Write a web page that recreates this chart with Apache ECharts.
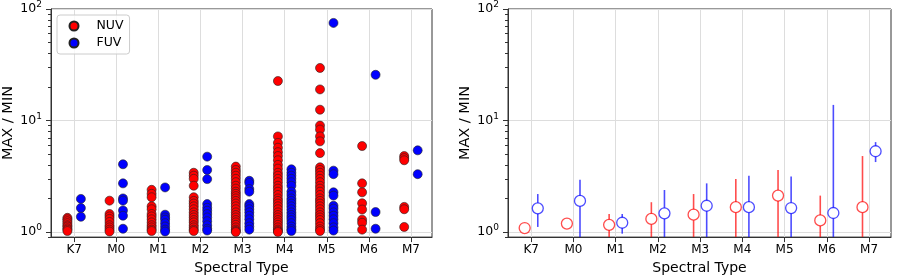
<!DOCTYPE html>
<html>
<head>
<meta charset="utf-8">
<script src="https://cdn.jsdelivr.net/npm/echarts@6/dist/echarts.min.js"></script>
<style>
html,body{margin:0;padding:0;background:#fff;}
#chart{width:900px;height:280px;}
</style>
</head>
<body>
<div id="chart"></div>
<script>
// ---- data ----
const categories = ['K7', 'M0', 'M1', 'M2', 'M3', 'M4', 'M5', 'M6', 'M7'];

// Left panel: individual MAX/MIN ratios per spectral type
const nuvRatios = [
  [1.34, 1.3, 1.25, 1.2, 1.15, 1.12, 1.08, 1.05, 1.02],
  [1.91, 1.45, 1.38, 1.31, 1.23, 1.15, 1.1, 1.05, 1.01],
  [2.39, 2.2, 2.05, 1.7, 1.6, 1.45, 1.38, 1.3, 1.22, 1.15, 1.1, 1.05, 1.02],
  [3.4, 3.2, 3.0, 2.6, 2.05, 1.9, 1.8, 1.7, 1.6, 1.5, 1.42, 1.35, 1.28, 1.22, 1.15, 1.1, 1.05, 1.02],
  [3.86, 3.6, 3.4, 3.2, 3.0, 2.8, 2.6, 2.45, 2.3, 2.2, 2.1, 2.0, 1.9, 1.8, 1.7, 1.6, 1.5, 1.42, 1.35, 1.28, 1.22, 1.16, 1.1, 1.05, 1.02, 1.0],
  [22.6, 7.2, 6.3, 5.7, 5.2, 4.8, 4.4, 4.0, 3.7, 3.4, 3.2, 3.0, 2.8, 2.6, 2.45, 2.3, 2.15, 2.0, 1.9, 1.8, 1.7, 1.6, 1.5, 1.42, 1.35, 1.28, 1.22, 1.16, 1.1, 1.05, 1.02, 1.0],
  [29.6, 19, 12.5, 9.0, 8.3, 7.2, 6.5, 5.1, 3.8, 3.6, 3.4, 3.2, 3.0, 2.8, 2.6, 2.45, 2.3, 2.15, 2.0, 1.9, 1.8, 1.7, 1.6, 1.5, 1.42, 1.35, 1.28, 1.2, 1.12, 1.06, 1.02],
  [5.9, 2.73, 2.27, 1.81, 1.59, 1.29, 1.21, 1.05],
  [4.8, 4.6, 4.4, 1.68, 1.6, 1.11]
];
const fuvRatios = [
  [1.98, 1.64, 1.37],
  [4.05, 2.73, 2.0, 1.91, 1.56, 1.4, 1.07],
  [2.51, 1.43, 1.35, 1.29, 1.2, 1.12, 1.05, 1.01],
  [4.74, 3.6, 2.98, 1.78, 1.65, 1.55, 1.45, 1.35, 1.25, 1.15, 1.07, 1.03],
  [2.88, 2.75, 2.43, 2.3, 1.78, 1.7, 1.6, 1.5, 1.4, 1.3, 1.2, 1.12, 1.05],
  [3.65, 3.4, 3.2, 3.0, 2.8, 2.6, 2.3, 2.15, 2.0, 1.9, 1.8, 1.7, 1.6, 1.5, 1.42, 1.35, 1.28, 1.2, 1.12, 1.06, 1.02],
  [75, 3.55, 3.3, 2.27, 2.12, 1.72, 1.62, 1.5, 1.4, 1.3, 1.2, 1.1, 1.03],
  [25.7, 1.51, 1.07],
  [5.4, 3.3]
];

// Right panel: typical value with spread
const nuvMedian = [1.085, 1.19, 1.16, 1.31, 1.43, 1.67, 2.12, 1.27, 1.67];
const nuvHigh   = [1.15, 1.26, 1.45, 1.85, 2.19, 2.98, 3.6, 2.12, 4.8];
const nuvLow    = [1.02, 1.12, 0.5, 0.5, 0.5, 0.5, 0.5, 0.5, 0.5];
const fuvMedian = [1.63, 1.90, 1.21, 1.47, 1.72, 1.67, 1.64, 1.48, 5.3];
const fuvHigh   = [2.19, 2.94, 1.45, 2.38, 2.73, 3.19, 3.15, 13.8, 6.4];
const fuvLow    = [1.11, 0.5, 0.966, 0.5, 0.5, 0.5, 0.5, 0.5, 4.24];

const yMajorTicks = [1, 10, 100];
const yMinorTicks = [0.9, 2, 3, 4, 5, 6, 7, 8, 9, 20, 30, 40, 50, 60, 70, 80, 90];
const xTickValues = [0, 1, 2, 3, 4, 5, 6, 7, 8];
const supDigits = {1: '0', 10: '1', 100: '2'};

// ---- build ----
const Y_MIN = 0.9, Y_MAX = 100;
const NUV_OFF = -0.16, FUV_OFF = 0.16;
const FONT = 'DejaVu Sans';
const RED = '#ff0000', BLUE = '#0000ff';
const RED_A = 'rgba(255,0,0,0.7)', BLUE_A = 'rgba(0,0,255,0.7)';

function flatten(groups, off) {
  const out = [];
  groups.forEach((vals, i) => vals.forEach(v => out.push([i + off, v])));
  return out;
}

function xAxisFor(gi, maxX) {
  return {
    type: 'value', gridIndex: gi, min: -0.55, max: maxX,
    name: 'Spectral Type', nameLocation: 'middle', nameGap: 23,
    nameTextStyle: {fontFamily: FONT, fontSize: 14, color: '#000'},
    axisLine: {show: true, onZero: false, lineStyle: {color: '#333', width: 1}},
    axisTick: {show: true, length: 5, customValues: xTickValues, lineStyle: {color: '#333'}},
    axisLabel: {customValues: xTickValues, margin: 7, fontFamily: FONT, fontSize: 12, color: '#000',
      formatter: v => categories[Math.round(v)] || ''},
    splitLine: {show: true, lineStyle: {color: '#dddddd', width: 1}}
  };
}
function yMainFor(gi) {
  return {
    type: 'log', logBase: 10, gridIndex: gi, min: Y_MIN, max: Y_MAX, position: 'left',
    name: 'MAX / MIN', nameLocation: 'middle', nameGap: 35,
    nameTextStyle: {fontFamily: FONT, fontSize: 14.5, color: '#000'},
    axisLine: {show: true, onZero: false, lineStyle: {color: '#333', width: 1}},
    axisTick: {show: true, length: 5, customValues: yMajorTicks, lineStyle: {color: '#333'}},
    axisLabel: {customValues: yMajorTicks, margin: 9, color: '#000',
      formatter: v => '{b|10}{s|' + (supDigits[Math.round(v)] || '') + '}',
      rich: {
        b: {fontFamily: FONT, fontSize: 12.5, color: '#000'},
        s: {fontFamily: FONT, fontSize: 9, color: '#000', verticalAlign: 'top', padding: [0, 0, 8, 0]}
      }},
    splitLine: {show: true, lineStyle: {color: '#dddddd', width: 1}}
  };
}
function yMinorFor(gi) {
  return {
    type: 'log', logBase: 10, gridIndex: gi, min: Y_MIN, max: Y_MAX, position: 'left', offset: 0,
    axisLine: {show: false, onZero: false},
    axisTick: {show: true, length: 3, customValues: yMinorTicks, lineStyle: {color: '#333'}},
    axisLabel: {show: false},
    splitLine: {show: false}
  };
}

function errorBarSeries(xi, yi, medians, lows, highs, off, color) {
  const data = medians.map((m, i) => [i + off, lows[i], highs[i]]);
  return {
    type: 'custom', xAxisIndex: xi, yAxisIndex: yi, clip: true, z: 2,
    encode: {x: 0, y: [1, 2]},
    data: data,
    renderItem: function (params, api) {
      const x = api.value(0);
      const lo = Math.max(api.value(1), Y_MIN);
      const hi = Math.min(api.value(2), Y_MAX);
      const p1 = api.coord([x, lo]);
      const p2 = api.coord([x, hi]);
      return {type: 'line', shape: {x1: p1[0], y1: p1[1], x2: p2[0], y2: p2[1]},
        style: {stroke: color, lineWidth: 1.6}};
    }
  };
}

const chart = echarts.init(document.getElementById('chart'), null, {renderer: 'canvas'});
chart.setOption({
  animation: false,
  backgroundColor: '#fff',
  grid: [
    {left: 50, top: 9, width: 382, height: 229, show: true, borderColor: '#333', borderWidth: 1, backgroundColor: 'transparent'},
    {left: 508, top: 9, width: 383, height: 229, show: true, borderColor: '#333', borderWidth: 1, backgroundColor: 'transparent'}
  ],
  legend: {
    left: 57, top: 15, orient: 'vertical',
    data: ['NUV', 'FUV'],
    itemWidth: 9, itemHeight: 14, itemGap: 4,
    padding: [4.5, 6, 4.5, 11.5],
    borderColor: '#cccccc', borderWidth: 1, borderRadius: 3,
    backgroundColor: 'rgba(255,255,255,0.8)',
    textStyle: {fontFamily: FONT, fontSize: 12.5, color: '#000', padding: [0, 0, 0, 13]}
  },
  xAxis: [xAxisFor(0, 8.5), xAxisFor(1, 8.52)],
  yAxis: [yMainFor(0), yMinorFor(0), yMainFor(1), yMinorFor(1)],
  series: [
    {name: 'NUV', type: 'scatter', xAxisIndex: 0, yAxisIndex: 0, symbol: 'circle', symbolSize: 9,
      itemStyle: {color: RED, borderColor: '#222', borderWidth: 0.6, opacity: 1},
      data: flatten(nuvRatios, NUV_OFF), z: 3},
    {name: 'FUV', type: 'scatter', xAxisIndex: 0, yAxisIndex: 0, symbol: 'circle', symbolSize: 9,
      itemStyle: {color: BLUE, borderColor: '#222', borderWidth: 0.6, opacity: 1},
      data: flatten(fuvRatios, FUV_OFF), z: 3},
    errorBarSeries(1, 2, nuvMedian, nuvLow, nuvHigh, -0.155, RED_A),
    errorBarSeries(1, 2, fuvMedian, fuvLow, fuvHigh, 0.155, BLUE_A),
    {type: 'scatter', xAxisIndex: 1, yAxisIndex: 2, symbol: 'circle', symbolSize: 11, z: 3,
      itemStyle: {color: '#fff', borderColor: RED_A, borderWidth: 1.3, opacity: 1},
      data: nuvMedian.map((m, i) => [i - 0.155, m])},
    {type: 'scatter', xAxisIndex: 1, yAxisIndex: 2, symbol: 'circle', symbolSize: 11, z: 3,
      itemStyle: {color: '#fff', borderColor: BLUE_A, borderWidth: 1.3, opacity: 1},
      data: fuvMedian.map((m, i) => [i + 0.155, m])}
  ]
});
</script>
</body>
</html>
